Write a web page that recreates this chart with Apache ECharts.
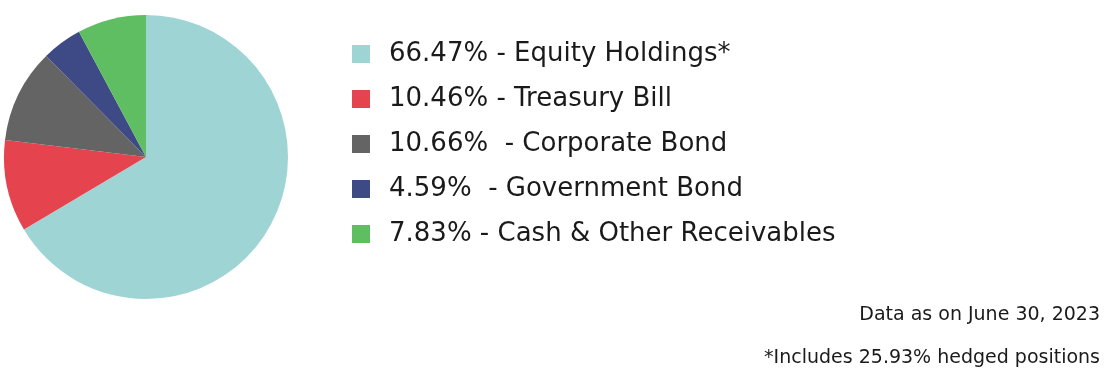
<!DOCTYPE html>
<html>
<head>
<meta charset="utf-8">
<style>
  html, body { margin: 0; padding: 0; background: #ffffff; }
  #chart { width: 1112px; height: 385px; }
</style>
<script src="https://cdn.jsdelivr.net/npm/echarts@6/dist/echarts.min.js"></script>
</head>
<body>
<div id="chart"></div>
<script>
// Asset allocation, percent of portfolio
const categories = ['Equity Holdings*', 'Treasury Bill', 'Corporate Bond', 'Government Bond', 'Cash & Other Receivables'];
const shares = [66.47, 10.46, 10.66, 4.59, 7.83];
const separators = [' ', ' ', '  ', '  ', ' '];
const colors = ['#9fd4d4', '#e5444f', '#646464', '#3e4a85', '#5fbe62'];
const notes = ['Data as on June 30, 2023', '*Includes 25.93% hedged positions'];

const FONT = 'DejaVu Sans';

// legend entry: "<share>% - <category>"
const labelFor = {};
categories.forEach((c, i) => {
  labelFor[c] = shares[i].toFixed(2) + '%' + separators[i] + '- ' + c;
});

const noteStyle = {
  fontFamily: FONT, fontSize: 19, lineHeight: 19, fontWeight: 'normal', color: '#1a1a1a'
};

const chart = echarts.init(document.getElementById('chart'), null, { renderer: 'canvas' });

chart.setOption({
  animation: false,
  color: colors,
  title: [
    { text: notes[0], right: 12, top: 306, padding: 0, textStyle: noteStyle },
    { text: notes[1], right: 12, top: 349, padding: 0, textStyle: noteStyle }
  ],
  legend: {
    orient: 'vertical',
    left: 352,
    top: 41,
    icon: 'rect',
    itemWidth: 18,
    itemHeight: 18,
    itemGap: 19,
    selectedMode: false,
    padding: 0,
    formatter: name => labelFor[name],
    textStyle: {
      fontFamily: FONT,
      fontSize: 26,
      color: '#1a1a1a',
      lineHeight: 18,
      padding: [8, 0, 0, 14]
    },
    data: categories
  },
  series: [{
    type: 'pie',
    center: [146, 157],
    radius: 142,
    startAngle: 90,
    clockwise: true,
    label: { show: false },
    labelLine: { show: false },
    emphasis: { disabled: true },
    silent: true,
    itemStyle: { borderWidth: 0 },
    data: categories.map((c, i) => ({ name: c, value: shares[i] }))
  }]
});
</script>
</body>
</html>
